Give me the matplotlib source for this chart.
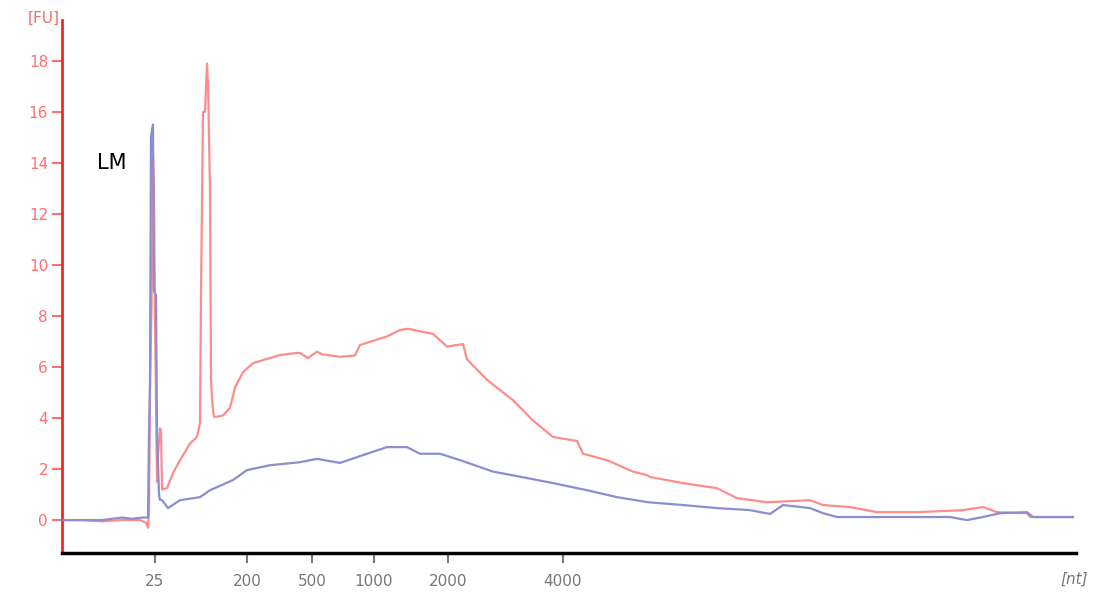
import matplotlib
matplotlib.use("Agg")
import matplotlib.pyplot as plt

# run position (arbitrary units along the trace) and fluorescence [FU]
red_x = [0, 20, 40, 60, 78, 84, 86, 87, 88, 90, 91, 92, 93, 95, 96, 98, 99,
         100, 105, 111, 118, 128, 135, 138, 139, 141, 143, 145, 146, 148, 149,
         150, 151, 152, 155, 161, 168, 173, 181, 191, 218, 235, 238, 246, 255,
         260, 278, 293, 298, 305, 325, 338, 346, 358, 371, 385, 401, 405, 425,
         438, 451, 471, 491, 515, 521, 545, 571, 585, 588, 621, 655, 675, 705,
         748, 761, 788, 815, 855, 901, 921, 935, 965, 968, 1011]
red_y = [0.0, 0.0, -0.05, 0.0, 0.0, -0.1, -0.3, 0.3, 5.0, 9.5, 14.3, 13.0,
         8.0, 1.5, 2.5, 3.6, 3.5, 1.2, 1.25, 1.84, 2.35, 3.0, 3.26, 3.8, 8.8,
         16.0, 16.0, 17.9, 17.1, 13.0, 5.5, 4.8, 4.3, 4.05, 4.05, 4.1, 4.4, 5.2,
         5.8, 6.15, 6.47, 6.55, 6.55, 6.35, 6.6, 6.5, 6.4, 6.45, 6.86, 6.95,
         7.2, 7.45, 7.5, 7.4, 7.3, 6.8, 6.9, 6.3, 5.5, 5.1, 4.7, 3.9, 3.26, 3.1,
         2.6, 2.35, 1.9, 1.76, 1.69, 1.45, 1.25, 0.86, 0.7, 0.78, 0.59, 0.51,
         0.31, 0.31, 0.39, 0.51, 0.31, 0.27, 0.12, 0.12]

blue_x = [0, 20, 40, 50, 60, 70, 80, 86, 87, 88, 89, 91, 92, 94, 95, 97, 98,
          100, 106, 118, 138, 148, 171, 185, 208, 231, 238, 255, 278, 305, 325,
          345, 358, 378, 398, 431, 458, 491, 525, 555, 586, 621, 655, 688, 708,
          721, 748, 761, 775, 821, 888, 905, 921, 938, 965, 971, 1011]
blue_y = [0.0, 0.0, 0.0, 0.05, 0.1, 0.05, 0.1, 0.1, 3.4, 5.4, 15.0, 15.5, 9.0,
          8.8, 3.4, 1.0, 0.8, 0.78, 0.47, 0.78, 0.9, 1.17, 1.57, 1.96, 2.15,
          2.24, 2.27, 2.4, 2.24, 2.6, 2.86, 2.86, 2.6, 2.6, 2.35, 1.9, 1.7,
          1.45, 1.17, 0.9, 0.7, 0.59, 0.47, 0.39, 0.24, 0.59, 0.47, 0.27, 0.12,
          0.12, 0.12, 0.0, 0.12, 0.27, 0.31, 0.12, 0.12]

size_ticks = [93, 185, 250, 312, 386, 501]
size_labels = ["25", "200", "500", "1000", "2000", "4000"]
fu_ticks = [0, 2, 4, 6, 8, 10, 12, 14, 16, 18]

fig = plt.figure(figsize=(10.99, 5.92), dpi=100)
ax = fig.add_axes([62 / 1099, 39 / 592, 1014 / 1099, 533 / 592])

ax.plot(red_x, red_y, color="#ff8c8c", lw=1.6, zorder=2)
ax.plot(blue_x, blue_y, color="#8a8ed0", lw=1.6, zorder=3)

ax.set_xlim(0, 1014)
ax.set_ylim(-1.29, 19.6)

for s in ["top", "right"]:
    ax.spines[s].set_visible(False)
ax.spines["left"].set_color("#ff2020")
ax.spines["left"].set_linewidth(2)
ax.spines["bottom"].set_color("black")
ax.spines["bottom"].set_linewidth(2.5)

ax.set_yticks(fu_ticks)
ax.set_yticklabels([str(v) for v in fu_ticks])
ax.tick_params(axis="y", colors="#ff7070", length=7, width=1.5, labelsize=11,
               pad=3)
ax.set_xticks(size_ticks)
ax.set_xticklabels(size_labels)
ax.tick_params(axis="x", colors="#777777", length=7, width=1.5, labelsize=11,
               pad=8)

ax.text(35, 14.0, "LM", fontsize=15, color="black", ha="left", va="center")
fig.text(28 / 1099, 1 - 18 / 592, "[FU]", color="#f07070", fontsize=11,
         ha="left", va="center")
fig.text(1060 / 1099, 1 - 579 / 592, "[nt]", color="#777777", fontsize=11,
         ha="left", va="center", style="italic")

fig.savefig("out.png", dpi=100)
